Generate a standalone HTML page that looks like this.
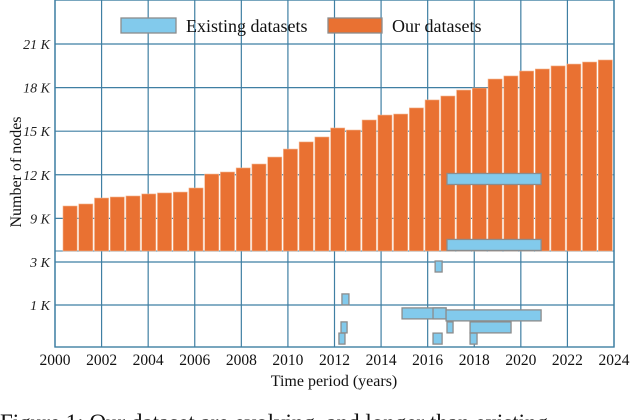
<!DOCTYPE html>
<html><head><meta charset="utf-8"><style>
html,body{margin:0;padding:0;background:#fff;}
svg{display:block;}
svg text{font-family:"Liberation Serif","DejaVu Serif",serif;}
</style></head><body>
<svg id="chart" width="640" height="420" viewBox="0 0 640 420" xmlns="http://www.w3.org/2000/svg" font-family="Liberation Serif, DejaVu Serif, serif"></svg>
<script>
// ---- data ----
const ourValues = [9.85,9.99,10.40,10.47,10.54,10.68,10.75,10.81,11.09,12.05,12.19,12.47,12.74,13.22,13.77,14.26,14.60,15.22,15.08,15.77,16.11,16.18,16.60,17.15,17.42,17.83,17.97,18.59,18.80,19.14,19.28,19.49,19.62,19.76,19.90];
const existStart = [2016.83,2016.83,2016.32,2012.32,2014.90,2016.23,2016.79,2016.83,2017.82,2012.28,2012.19,2016.23,2017.82];
const existEnd   = [2020.87,2020.87,2016.62,2012.62,2016.79,2016.79,2020.87,2017.09,2019.58,2012.54,2012.45,2016.62,2018.12];
const existNodes = [11.71,7.17,2.79,1.26,0.79,0.79,0.74,0.44,0.44,0.44,0.16,0.16,0.16];
const xTicks = [2000,2002,2004,2006,2008,2010,2012,2014,2016,2018,2020,2022,2024];
const upperTicks = [9,12,15,18,21];
const lowerTicks = [1,3];
const upperTickLabels = ["9 K","12 K","15 K","18 K","21 K"];
const lowerTickLabels = ["1 K","3 K"];

// ---- scales ----
const L=55,R=614,T=0,B=347,BREAK=251;
const x = y => L + (y-2000)/(24)*(R-L);
const yU = v => 44 + (21-v)*14.53;
function yL(v){ return v<=1 ? 345 - v*40 : 305 - (v-1)*21.5; }
const yAny = v => v>=6.75 ? yU(v) : yL(v);
const FONT='"Liberation Serif","DejaVu Serif",serif';

const svg=document.getElementById('chart');
const NS='http://www.w3.org/2000/svg';
function mk(tag,attrs,parent){const e=document.createElementNS(NS,tag);for(const k in attrs)e.setAttribute(k,attrs[k]);if(tag==='text')e.style.fontFamily=FONT;(parent||svg).appendChild(e);return e;}

// grid
const grid=mk('g',{});


xTicks.forEach(t=>{mk('line',{x1:x(t),x2:x(t),y1:T,y2:B,stroke:'#3f7fa3','stroke-width':1.2},grid);});
upperTicks.forEach(t=>{mk('line',{x1:L,x2:R,y1:yU(t),y2:yU(t),stroke:'#3f7fa3','stroke-width':1.2},grid);});
lowerTicks.forEach(t=>{mk('line',{x1:L,x2:R,y1:yL(t),y2:yL(t),stroke:'#3f7fa3','stroke-width':1.2},grid);});
mk('line',{x1:L,x2:R,y1:BREAK,y2:BREAK,stroke:'#3f7fa3','stroke-width':1},grid);
mk('rect',{x:L,y:T,width:R-L,height:B-T,fill:'none',stroke:'#3f7fa3','stroke-width':1.4},grid);

// our bars
const n=ourValues.length, band=(R-L-8)/n;
const bars=mk('g',{});


ourValues.forEach((v,i)=>{
  const r=mk('rect',{x:L+8+i*band,y:yU(v),width:band-1.6,height:BREAK-yU(v),fill:'#e97132',stroke:'#f3b58f','stroke-width':0.6},bars);
  
  
});

// existing datasets
const ex=mk('g',{});


existNodes.forEach((v,i)=>{
  const cy=yAny(v);
  const r=mk('rect',{x:x(existStart[i]),y:cy-5.5,width:x(existEnd[i])-x(existStart[i]),height:11,fill:'#82caec',stroke:'#8c8c8c','stroke-width':1.3},ex);
  
  
});

// y tick labels
upperTicks.forEach((t,i)=>{const e=mk('text',{x:50,y:yU(t)+5,'text-anchor':'end','font-size':14,'font-style':'italic',fill:'#222'});e.textContent=upperTickLabels[i];
  });
lowerTicks.forEach((t,i)=>{const e=mk('text',{x:50,y:yL(t)+5,'text-anchor':'end','font-size':14,'font-style':'italic',fill:'#222'});e.textContent=lowerTickLabels[i];
  });
// x tick labels
xTicks.forEach(t=>{const e=mk('text',{x:x(t),y:365,'text-anchor':'middle','font-size':15.5,fill:'#111'});e.textContent=t;
  });
</script>
<script>
(function(){
const svg=document.getElementById('chart');const NS='http://www.w3.org/2000/svg';
const FONT='"Liberation Serif","DejaVu Serif",serif';
function mk(tag,attrs){const e=document.createElementNS(NS,tag);for(const k in attrs)e.setAttribute(k,attrs[k]);if(tag==='text')e.style.fontFamily=FONT;svg.appendChild(e);return e;}
let e;
e=mk('text',{x:334,y:386,'text-anchor':'middle','font-size':16,fill:'#111'});e.textContent='Time period (years)';

e=mk('text',{x:0,y:0,'text-anchor':'middle','font-size':16,fill:'#111',transform:'translate(21,172) rotate(-90)'});e.textContent='Number of nodes';

e=mk('rect',{x:121,y:18,width:55,height:15,fill:'#82caec',stroke:'#8c8c8c','stroke-width':1.3});

e=mk('text',{x:186,y:32,'font-size':18,fill:'#111'});e.textContent='Existing datasets';

e=mk('rect',{x:328,y:18,width:54,height:15,fill:'#e97132',stroke:'#8c8c8c','stroke-width':1.3});

e=mk('text',{x:392,y:32,'font-size':18,fill:'#111'});e.textContent='Our datasets';

e=mk('text',{x:0,y:430,'font-size':23,fill:'#111'});e.textContent='Figure 1: Our dataset are evolving, and longer than existing';

})();
</script>
</body></html>
